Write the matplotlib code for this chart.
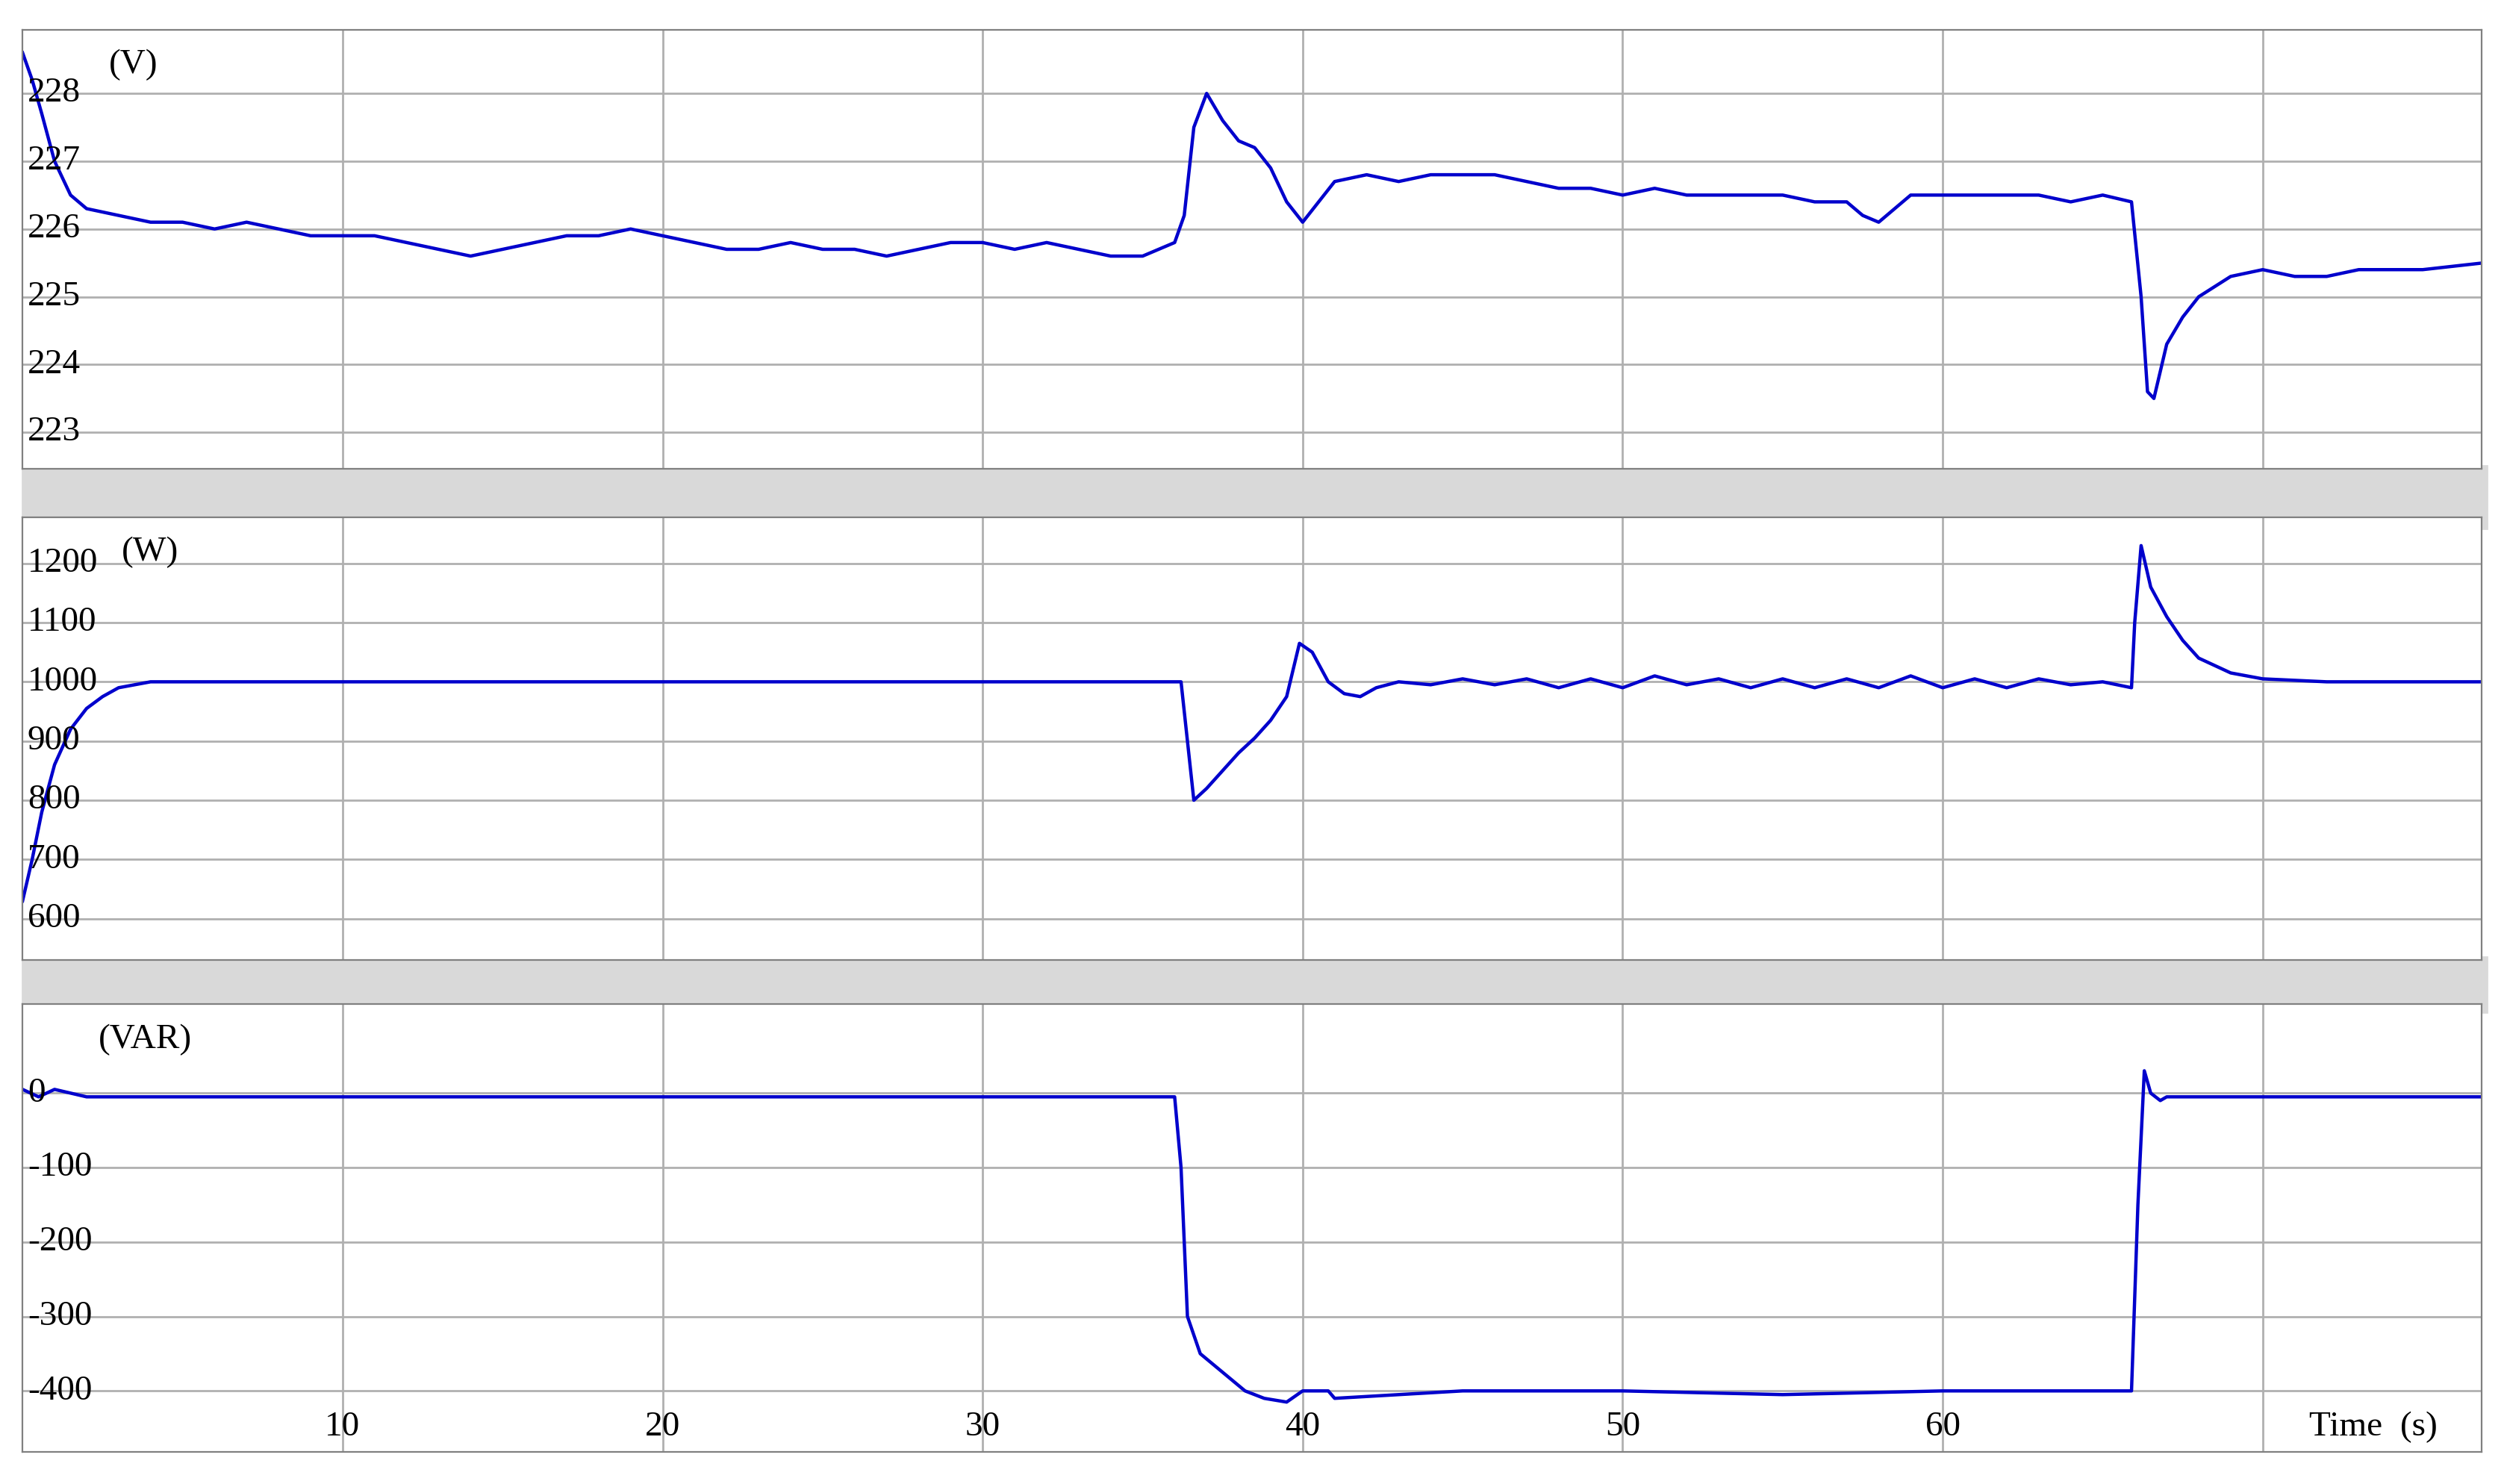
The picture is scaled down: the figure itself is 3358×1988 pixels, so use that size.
import matplotlib.pyplot as plt
from matplotlib.patches import Rectangle
from matplotlib.transforms import blended_transform_factory

plt.rcParams['font.family'] = ['Liberation Serif', 'DejaVu Serif']

# voltage (V)
t_v = [0, 0.3, 0.6, 1, 1.5, 2, 3, 4, 5, 6, 7, 8, 9, 10, 11, 12, 13, 14, 15, 16, 17, 18, 19, 20,
       21, 22, 23, 24, 25, 26, 27, 28, 29, 30, 31, 32, 33, 34, 35, 36, 36.3, 36.6, 37, 37.5, 38,
       38.5, 39, 39.5, 40, 40.5, 41, 42, 43, 44, 45, 46, 47, 48, 49, 50, 51, 52, 53, 54, 55, 56,
       57, 57.5, 58, 58.5, 59, 60, 61, 62, 63, 64, 65, 65.9, 66.2, 66.4, 66.6, 67, 67.5, 68, 69,
       70, 71, 72, 73, 74, 75, 76.9]
v = [228.6, 228.2, 227.7, 227.0, 226.5, 226.3, 226.2, 226.1, 226.1, 226.0, 226.1, 226.0, 225.9,
     225.9, 225.9, 225.8, 225.7, 225.6, 225.7, 225.8, 225.9, 225.9, 226.0, 225.9, 225.8, 225.7,
     225.7, 225.8, 225.7, 225.7, 225.6, 225.7, 225.8, 225.8, 225.7, 225.8, 225.7, 225.6, 225.6,
     225.8, 226.2, 227.5, 228.0, 227.6, 227.3, 227.2, 226.9, 226.4, 226.1, 226.4, 226.7, 226.8,
     226.7, 226.8, 226.8, 226.8, 226.7, 226.6, 226.6, 226.5, 226.6, 226.5, 226.5, 226.5, 226.5,
     226.4, 226.4, 226.2, 226.1, 226.3, 226.5, 226.5, 226.5, 226.5, 226.5, 226.4, 226.5, 226.4,
     225.0, 223.6, 223.5, 224.3, 224.7, 225.0, 225.3, 225.4, 225.3, 225.3, 225.4, 225.4, 225.4, 225.5]

# active power (W)
t_p = [0, 0.3, 0.6, 1, 1.5, 2, 2.5, 3, 4, 6, 10, 20, 30, 36.2, 36.4, 36.6, 37, 37.5, 38, 38.5,
       39, 39.5, 39.9, 40.3, 40.8, 41.3, 41.8, 42.3, 43, 44, 45, 46, 47, 48, 49, 50, 51, 52, 53,
       54, 55, 56, 57, 58, 59, 60, 61, 62, 63, 64, 65, 65.9, 66.0, 66.2, 66.5, 67, 67.5, 68, 69,
       70, 72, 76.9]
p = [630, 700, 780, 860, 920, 955, 975, 990, 1000, 1000, 1000, 1000, 1000, 1000, 900, 800, 820,
     850, 880, 905, 935, 975, 1065, 1050, 1000, 980, 975, 990, 1000, 995, 1005, 995, 1005, 990,
     1005, 990, 1010, 995, 1005, 990, 1005, 990, 1005, 990, 1010, 990, 1005, 990, 1005, 995, 1000,
     990, 1100, 1230, 1160, 1110, 1070, 1040, 1015, 1005, 1000, 1000]

# reactive power (VAR)
t_q = [0, 0.5, 1, 2, 5, 10, 20, 30, 36.0, 36.2, 36.4, 36.8, 37.5, 38.2, 38.8, 39.5, 40, 40.8,
       41, 45, 50, 55, 60, 65.9, 66.1, 66.3, 66.5, 66.8, 67, 70, 76.9]
q = [5, -5, 5, -5, -5, -5, -5, -5, -5, -100, -300, -350, -375, -400, -410, -415, -400, -400,
     -410, -400, -400, -405, -400, -400, -150, 30, 0, -10, -5, -5, -5]

fig = plt.figure(figsize=(16.79, 9.94), dpi=200)
# grey bands between the panels
for y0, h in [(0.644, 0.042), (0.318, 0.037)]:
    fig.add_artist(Rectangle((0.009, y0), 0.983, h, transform=fig.transFigure,
                             color='#d9d9d9', zorder=-10))

specs = [
    (t_v, v, [0.009, 0.684, 0.981, 0.296], (222.46, 228.94), [223, 224, 225, 226, 227, 228], '(V)', 0.045),
    (t_p, p, [0.009, 0.353, 0.981, 0.2985], (530, 1278), [600, 700, 800, 900, 1000, 1100, 1200], '(W)', 0.052),
    (t_q, q, [0.009, 0.0216, 0.981, 0.302], (-482, 120), [0, -100, -200, -300, -400], '(VAR)', 0.05),
]
axes = []
for tt, yy, pos, ylim, ticks, unit, ux in specs:
    ax = fig.add_axes(pos)
    ax.set_facecolor('white')
    ax.plot(tt, yy, color='#0000cc', lw=1.6)
    ax.set_xlim(0, 76.85)
    ax.set_ylim(*ylim)
    ax.set_xticks(range(10, 80, 10))
    ax.set_yticks(ticks)
    ax.tick_params(length=0, labelleft=False, labelbottom=False)
    ax.grid(True, color='#b0b0b0', lw=1.0)
    for s in ax.spines.values():
        s.set_color('#808080')
    tr = blended_transform_factory(ax.transAxes, ax.transData)
    for tk in ticks:
        ax.text(0.002, tk, str(tk), transform=tr, fontsize=17, va='center', ha='left')
    ax.text(ux, 0.92, unit, transform=ax.transAxes, fontsize=17, va='center', ha='center')
    axes.append(ax)

ax = axes[2]
tr = blended_transform_factory(ax.transData, ax.transAxes)
for x in range(10, 70, 10):
    ax.text(x, 0.055, str(x), transform=tr, fontsize=17, ha='center', va='center')
ax.text(0.982, 0.055, 'Time  (s)', transform=ax.transAxes, fontsize=17, ha='right', va='center')

fig.savefig('out.png', dpi=200, facecolor='white')
